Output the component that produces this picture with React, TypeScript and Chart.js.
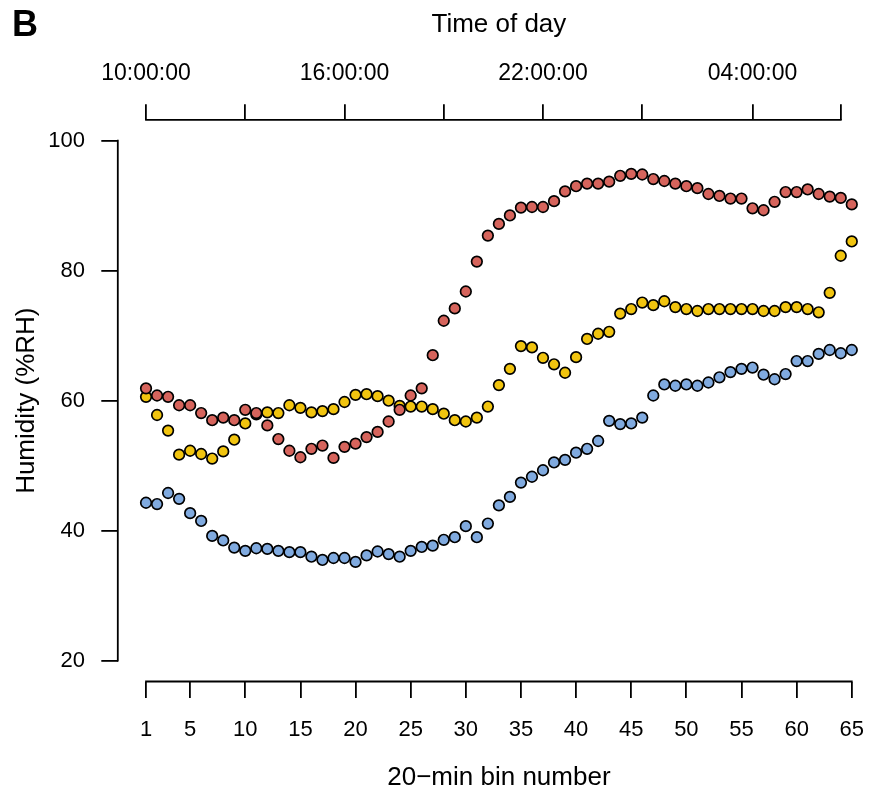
import React, { useEffect, useRef } from "react";
import { Chart, registerables } from "chart.js";

Chart.register(...registerables);

const bins: number[] = Array.from({ length: 65 }, (_, i) => i + 1);

const redSeries: number[] = [
  61.9, 60.8, 60.6, 59.3, 59.3, 58.1, 57.0, 57.4, 57.0, 58.6,
  58.1, 56.2, 54.1, 52.3, 51.3, 52.6, 53.1, 51.2, 52.9, 53.4,
  54.4, 55.2, 56.8, 58.6, 60.8, 61.9, 67.0, 72.3, 74.2, 76.8,
  81.4, 85.4, 87.2, 88.5, 89.7, 89.8, 89.8, 90.7, 92.2, 93.0,
  93.4, 93.4, 93.7, 94.6, 94.9, 94.8, 94.1, 93.8, 93.4, 93.0,
  92.7, 91.8, 91.5, 91.1, 91.1, 89.6, 89.3, 90.6, 92.1, 92.1,
  92.5, 91.8, 91.4, 91.2, 90.2,
];

const yellowSeries: number[] = [
  60.6, 57.8, 55.4, 51.7, 52.3, 51.8, 51.1, 52.2, 54.0, 56.5,
  57.9, 58.2, 58.1, 59.3, 58.9, 58.2, 58.4, 58.7, 59.8, 60.9,
  61.0, 60.7, 60.0, 59.2, 59.1, 59.1, 58.7, 58.0, 57.0, 56.8,
  57.4, 59.1, 62.4, 64.9, 68.4, 68.2, 66.6, 65.6, 64.3, 66.7,
  69.5, 70.3, 70.6, 73.4, 74.1, 75.1, 74.7, 75.3, 74.4, 74.1,
  73.8, 74.1, 74.1, 74.1, 74.1, 74.1, 73.8, 73.8, 74.4, 74.4,
  74.1, 73.6, 76.6, 82.3, 84.5,
];

const blueSeries: number[] = [
  44.3, 44.1, 45.8, 44.9, 42.7, 41.5, 39.2, 38.5, 37.4, 36.9,
  37.3, 37.2, 36.9, 36.7, 36.7, 36.0, 35.5, 35.8, 35.8, 35.2,
  36.2, 36.8, 36.4, 36.0, 36.9, 37.5, 37.7, 38.6, 39.0, 40.7,
  39.0, 41.1, 43.9, 45.2, 47.4, 48.3, 49.3, 50.5, 50.9, 52.0,
  52.6, 53.8, 56.9, 56.4, 56.5, 57.4, 60.8, 62.5, 62.3, 62.5,
  62.3, 62.8, 63.6, 64.4, 64.9, 65.1, 64.0, 63.3, 64.1, 66.1,
  66.1, 67.2, 67.8, 67.3, 67.8,
];

const binTicks: number[] = [1, 5, 10, 15, 20, 25, 30, 35, 40, 45, 50, 55, 60, 65];
const humidityTicks: number[] = [20, 40, 60, 80, 100];
const timeTickBins: number[] = [1, 10, 19, 28, 37, 46, 56, 64];
const timeTickLabels: string[] = ["10:00:00", "", "16:00:00", "", "22:00:00", "", "04:00:00", ""];

const FONT = "'Liberation Sans', Arial, Helvetica, sans-serif";
const LINE_W = 1.8;

const rAxesPlugin = {
  id: "rAxes",
  afterDraw(chart: any) {
    const ctx = chart.ctx;
    const { x, x2, y } = chart.scales;
    const area = chart.chartArea;
    ctx.save();
    ctx.strokeStyle = "#000";
    ctx.lineWidth = LINE_W;
    ctx.lineCap = "square";
    ctx.beginPath();
    ctx.moveTo(x.getPixelForValue(binTicks[0]), area.bottom);
    ctx.lineTo(x.getPixelForValue(binTicks[binTicks.length - 1]), area.bottom);
    ctx.stroke();
    ctx.beginPath();
    ctx.moveTo(x2.getPixelForValue(timeTickBins[0]), area.top);
    ctx.lineTo(x2.getPixelForValue(timeTickBins[timeTickBins.length - 1]), area.top);
    ctx.stroke();
    ctx.beginPath();
    ctx.moveTo(area.left, y.getPixelForValue(humidityTicks[0]));
    ctx.lineTo(area.left, y.getPixelForValue(humidityTicks[humidityTicks.length - 1]));
    ctx.stroke();
    ctx.fillStyle = "#000";
    ctx.font = `bold 36px ${FONT}`;
    ctx.textAlign = "left";
    ctx.textBaseline = "alphabetic";
    ctx.fillText("B", 12, 36);
    ctx.restore();
  },
};

const gridOpts = (tl: number) => ({
  display: true,
  drawOnChartArea: false,
  drawTicks: true,
  tickLength: tl,
  color: "#000",
  tickColor: "#000",
  lineWidth: LINE_W,
  tickWidth: LINE_W,
});

export default function App() {
  const canvasRef = useRef<HTMLCanvasElement | null>(null);

  useEffect(() => {
    if (!canvasRef.current) return;
    const mk = (vals: number[]) => bins.map((b, i) => ({ x: b, y: vals[i] }));
    const pt = { pointRadius: 5.3, pointBorderWidth: 1.7, pointBorderColor: "#000", showLine: false };
    const chart = new Chart(canvasRef.current, {
      type: "scatter",
      data: {
        datasets: [
          { label: "blue", data: mk(blueSeries), backgroundColor: "#80AADF", pointBackgroundColor: "#80AADF", borderColor: "#000", order: 3, ...pt },
          { label: "yellow", data: mk(yellowSeries), backgroundColor: "#F1C40F", pointBackgroundColor: "#F1C40F", borderColor: "#000", order: 2, ...pt },
          { label: "red", data: mk(redSeries), backgroundColor: "#D6645C", pointBackgroundColor: "#D6645C", borderColor: "#000", order: 1, ...pt },
        ],
      },
      options: {
        responsive: false,
        animation: false,
        devicePixelRatio: 1,
        layout: { autoPadding: false, padding: { left: 0, right: 0, top: 0, bottom: 0 } },
        plugins: { legend: { display: false }, tooltip: { enabled: false } },
        scales: {
          x: {
            type: "linear",
            position: "bottom",
            min: -1.56,
            max: 67.56,
            border: { display: false },
            grid: gridOpts(16.5),
            afterBuildTicks: (s: any) => { s.ticks = binTicks.map((v) => ({ value: v })); },
            afterFit: (s: any) => { s.height = 109.5; s.paddingLeft = 0; s.paddingRight = 0; },
            ticks: {
              autoSkip: false,
              maxRotation: 0,
              minRotation: 0,
              padding: 19,
              color: "#000",
              font: { family: FONT, size: 22 },
              callback: (v: any) => String(v),
            },
            title: {
              display: true,
              text: "20\u2212min bin number",
              color: "#000",
              font: { family: FONT, size: 26, lineHeight: 1 },
              padding: { top: 0, bottom: 0 },
            },
          },
          x2: {
            type: "linear",
            position: "top",
            min: -1.56,
            max: 67.56,
            border: { display: false },
            grid: gridOpts(15.6),
            afterBuildTicks: (s: any) => { s.ticks = timeTickBins.map((v) => ({ value: v })); },
            afterFit: (s: any) => { s.height = 119.9; s.paddingLeft = 0; s.paddingRight = 0; },
            ticks: {
              autoSkip: false,
              maxRotation: 0,
              minRotation: 0,
              padding: 17,
              color: "#000",
              font: { family: FONT, size: 23 },
              callback: (v: any) => {
                const i = timeTickBins.indexOf(Number(v));
                return i >= 0 ? timeTickLabels[i] : "";
              },
            },
            title: {
              display: true,
              text: "Time of day",
              color: "#000",
              font: { family: FONT, size: 26, lineHeight: 1 },
              padding: { top: 12, bottom: 0 },
            },
          },
          y: {
            type: "linear",
            position: "left",
            min: 16.8,
            max: 103.2,
            border: { display: false },
            grid: gridOpts(16.5),
            afterBuildTicks: (s: any) => { s.ticks = humidityTicks.map((v) => ({ value: v })); },
            afterFit: (s: any) => { s.width = 117.8; s.paddingTop = 0; s.paddingBottom = 0; },
            ticks: {
              autoSkip: false,
              padding: 16.3,
              color: "#000",
              font: { family: FONT, size: 22 },
              callback: (v: any) => String(v),
            },
            title: {
              display: true,
              text: "Humidity (%RH)",
              color: "#000",
              font: { family: FONT, size: 26, lineHeight: 1 },
              padding: { top: 14, bottom: 0 },
            },
          },
        },
      } as any,
      plugins: [rAxesPlugin],
    });
    return () => chart.destroy();
  }, []);

  return (
    <div
      style={{
        position: "fixed",
        left: 0,
        top: 0,
        width: 870,
        height: 791,
        overflow: "hidden",
        background: "#fff",
      }}
    >
      <canvas ref={canvasRef} width={880} height={791} style={{ width: 880, height: 791, display: "block" }} />
    </div>
  );
}
